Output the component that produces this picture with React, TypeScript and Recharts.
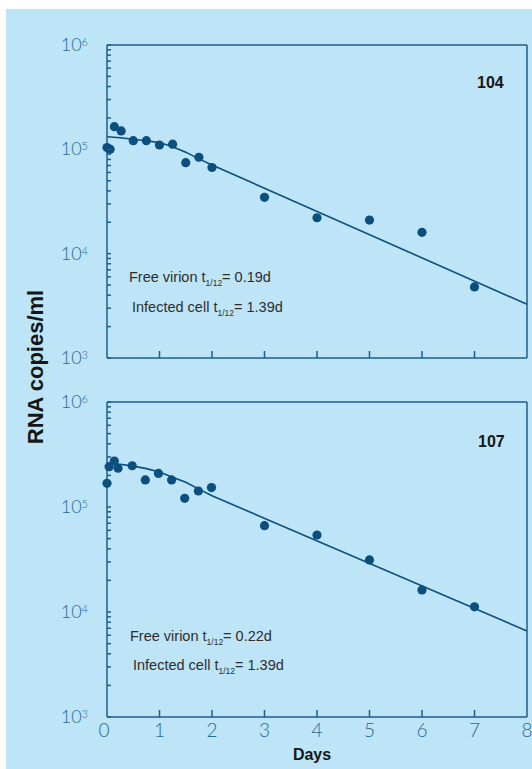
import { ComposedChart, Scatter, Line, XAxis, YAxis } from 'recharts';

const BG = '#bde4f7';
const AXIS = '#1d5f8c';
const MARK = '#0b4f7e';
const TICK_TEXT = '#2a6a98';
const NOTE = '#2e2e2e';

// days on the x axis
const days = [0, 1, 2, 3, 4, 5, 6, 7, 8];

// log ticks, decades get a label
const yTicks = [
  1000, 2000, 3000, 4000, 5000, 6000, 7000, 8000, 9000,
  10000, 20000, 30000, 40000, 50000, 60000, 70000, 80000, 90000,
  100000, 200000, 300000, 400000, 500000, 600000, 700000, 800000, 900000,
  1000000,
];

// patient 104 - measured RNA copies/ml
const p104Points = [
  { t: 0, v: 104000 },
  { t: 0.06, v: 100000 },
  { t: 0.14, v: 165000 },
  { t: 0.27, v: 150000 },
  { t: 0.5, v: 121000 },
  { t: 0.75, v: 121000 },
  { t: 1.0, v: 110000 },
  { t: 1.25, v: 112000 },
  { t: 1.5, v: 74500 },
  { t: 1.75, v: 84000 },
  { t: 2.0, v: 67000 },
  { t: 3, v: 34700 },
  { t: 4, v: 22100 },
  { t: 5, v: 21000 },
  { t: 6, v: 16000 },
  { t: 7, v: 4800 },
];

// patient 104 - fitted curve
const p104Fit = [
  { t: 0, v: 132000 },
  { t: 0.25, v: 129000 },
  { t: 0.5, v: 125000 },
  { t: 0.75, v: 121000 },
  { t: 1.0, v: 116000 },
  { t: 1.25, v: 106000 },
  { t: 1.5, v: 94000 },
  { t: 1.75, v: 81000 },
  { t: 2, v: 70800 },
  { t: 8, v: 3270 },
];

// patient 107
const p107Points = [
  { t: 0, v: 168000 },
  { t: 0.04, v: 242000 },
  { t: 0.14, v: 274000 },
  { t: 0.21, v: 234000 },
  { t: 0.48, v: 247000 },
  { t: 0.73, v: 181000 },
  { t: 0.98, v: 209000 },
  { t: 1.23, v: 181000 },
  { t: 1.48, v: 121000 },
  { t: 1.74, v: 142000 },
  { t: 1.99, v: 153000 },
  { t: 3, v: 66400 },
  { t: 4, v: 54100 },
  { t: 5, v: 31300 },
  { t: 6, v: 16200 },
  { t: 7, v: 11200 },
];

const p107Fit = [
  { t: 0, v: 260000 },
  { t: 0.25, v: 255000 },
  { t: 0.5, v: 245000 },
  { t: 0.75, v: 232000 },
  { t: 1.0, v: 215000 },
  { t: 1.25, v: 192000 },
  { t: 1.5, v: 172000 },
  { t: 1.75, v: 148000 },
  { t: 2, v: 128000 },
  { t: 8, v: 6600 },
];

const isDecade = (v: number) => {
  const e = Math.log10(v);
  return Math.abs(e - Math.round(e)) < 1e-6;
};

const LeftTick = (props: any) => {
  const { x, y, payload } = props;
  const v = payload.value;
  return (
    <g>
      <line x1={x} x2={x + 4} y1={y} y2={y} stroke={AXIS} strokeWidth={1.5} />
      {isDecade(v) && (
        <text
          x={x - 19}
          y={y + 6}
          textAnchor="end"
          fill={TICK_TEXT}
          fontSize={18}
          fontFamily="Lato, 'Liberation Sans', sans-serif"
          fontWeight={300}
        >
          10
          <tspan dy={-5} fontSize={11}>
            {Math.round(Math.log10(v))}
          </tspan>
        </text>
      )}
    </g>
  );
};

const RightTick = (props: any) => {
  const { x, y } = props;
  return <line x1={x} x2={x - 4} y1={y} y2={y} stroke={AXIS} strokeWidth={1.5} />;
};

const TopTick = (props: any) => {
  const { x, y, payload } = props;
  if (payload.value === 0 || payload.value === 8) return <g />;
  return <line x1={x} x2={x} y1={y} y2={y + 7} stroke={AXIS} strokeWidth={1.5} />;
};

const makeBottomTick = (withLabels: boolean) => (props: any) => {
  const { x, y, payload } = props;
  const v = payload.value;
  return (
    <g>
      {v !== 0 && v !== 8 && (
        <line x1={x} x2={x} y1={y} y2={y - 7} stroke={AXIS} strokeWidth={1.5} />
      )}
      {withLabels && (
        <text
          x={v === 0 ? x - 3 : x}
          y={y + 20}
          textAnchor="middle"
          fill={TICK_TEXT}
          fontSize={19}
          fontFamily="Lato, 'Liberation Sans', sans-serif"
          fontWeight={300}
        >
          {v}
        </text>
      )}
    </g>
  );
};

const Dot = (props: any) => <circle cx={props.cx} cy={props.cy} r={4.6} fill={MARK} />;

interface PanelProps {
  points: { t: number; v: number }[];
  fit: { t: number; v: number }[];
  top: number;
  margin: { top: number; right: number; left: number; bottom: number };
  bottomHeight: number;
  labels: boolean;
}

function Panel({ points, fit, top, margin, bottomHeight, labels }: PanelProps) {
  const axisLine = { stroke: AXIS, strokeWidth: 1.5 };
  return (
    <div style={{ position: 'absolute', left: 0, top }}>
      <ComposedChart width={526} height={380} margin={margin}>
        <XAxis
          xAxisId="b"
          dataKey="t"
          type="number"
          domain={[0, 8]}
          ticks={days}
          interval={0}
          height={bottomHeight}
          tickSize={0}
          tickMargin={0}
          tickLine={false}
          axisLine={axisLine}
          tick={makeBottomTick(labels)}
        />
        <XAxis
          xAxisId="t"
          orientation="top"
          dataKey="t"
          type="number"
          domain={[0, 8]}
          ticks={days}
          interval={0}
          height={1}
          tickSize={0}
          tickMargin={0}
          tickLine={false}
          axisLine={axisLine}
          tick={TopTick}
        />
        <YAxis
          yAxisId="l"
          scale="log"
          type="number"
          domain={[1000, 1000000]}
          ticks={yTicks}
          interval={0}
          width={60}
          tickSize={0}
          tickMargin={0}
          tickLine={false}
          axisLine={axisLine}
          tick={LeftTick}
        />
        <YAxis
          yAxisId="r"
          orientation="right"
          scale="log"
          type="number"
          domain={[1000, 1000000]}
          ticks={yTicks}
          interval={0}
          width={1}
          tickSize={0}
          tickMargin={0}
          tickLine={false}
          axisLine={axisLine}
          tick={RightTick}
        />
        <Line
          xAxisId="b"
          yAxisId="l"
          data={fit}
          dataKey="v"
          type="linear"
          stroke={MARK}
          strokeWidth={1.6}
          dot={false}
          activeDot={false}
          isAnimationActive={false}
        />
        <Scatter
          xAxisId="b"
          yAxisId="l"
          data={points}
          dataKey="v"
          shape={Dot}
          isAnimationActive={false}
        />
      </ComposedChart>
    </div>
  );
}

const Note = ({ x, y, label, value }: { x: number; y: number; label: string; value: string }) => (
  <text x={x} y={y} fontSize={14.5} fill={NOTE} fontFamily="'Liberation Sans', Arial, sans-serif">
    {label} t
    <tspan fontSize={8.5} dy={4}>
      1/12
    </tspan>
    <tspan dy={-4}>= {value}</tspan>
  </text>
);

export default function App() {
  return (
    <div
      style={{
        position: 'absolute',
        left: 6,
        top: 9,
        width: 526,
        height: 760,
        background: BG,
        overflow: 'hidden',
      }}
    >
      <Panel
        points={p104Points}
        fit={p104Fit}
        top={0}
        margin={{ top: 35, right: 4, left: 41, bottom: 30 }}
        bottomHeight={1}
        labels={false}
      />
      <Panel
        points={p107Points}
        fit={p107Fit}
        top={380}
        margin={{ top: 12, right: 4, left: 41, bottom: 21 }}
        bottomHeight={31}
        labels={true}
      />
      <svg
        width={526}
        height={760}
        style={{ position: 'absolute', left: 0, top: 0, pointerEvents: 'none' }}
      >
        <g fontFamily="'Liberation Sans', Arial, sans-serif" fontWeight="bold" fill="#161616">
          <text x={471} y={79} fontSize={16}>104</text>
          <text x={472} y={438} fontSize={16}>107</text>
          <text x={306} y={751} fontSize={16} textAnchor="middle">Days</text>
          <text
            x={37}
            y={358}
            fontSize={22}
            textAnchor="middle"
            transform="rotate(-90 37 358)"
          >
            RNA copies/ml
          </text>
        </g>
        <Note x={123} y={273} label="Free virion" value="0.19d" />
        <Note x={126} y={303} label="Infected cell" value="1.39d" />
        <Note x={124} y={632} label="Free virion" value="0.22d" />
        <Note x={127} y={661} label="Infected cell" value="1.39d" />
      </svg>
    </div>
  );
}
